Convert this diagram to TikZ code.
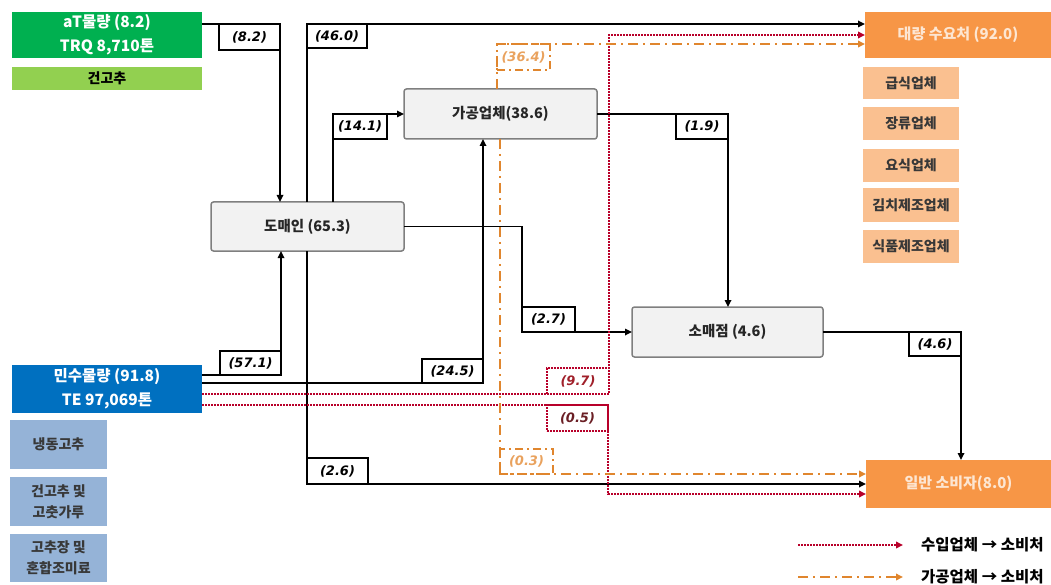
\documentclass[tikz,border=0pt]{standalone}
\usepackage{fontspec}
\usetikzlibrary{arrows.meta,calc}
\newfontfamily\kr{Noto Sans CJK KR}
\newfontfamily\labfont{DejaVu Sans}
\definecolor{tgreen}{HTML}{00B050}
\definecolor{lgreen}{HTML}{92D050}
\definecolor{tblue}{HTML}{0070C0}
\definecolor{lblue}{HTML}{95B3D7}
\definecolor{torange}{HTML}{F79646}
\definecolor{lorange}{HTML}{FAC090}
\definecolor{boxgray}{HTML}{F2F2F2}
\definecolor{edgegray}{HTML}{7F7F7F}
\definecolor{dotred}{HTML}{B8002A}
\definecolor{dashor}{HTML}{E0862E}
\definecolor{laborange}{HTML}{E9A25E}
\definecolor{labred}{HTML}{A0202A}
\definecolor{labbrown}{HTML}{6A1E24}
\definecolor{subtext}{HTML}{383838}
\definecolor{demtext}{HTML}{FDE6D2}
\begin{document}
\begin{tikzpicture}[x=1pt,y=-1pt,
  base/.style={rectangle,inner sep=0pt,outer sep=0pt,anchor=north west,align=center,
    font=\kr\bfseries\fontsize{14.5}{18}\selectfont},
  srcbox/.style={base,fill=#1,text=white,font=\kr\bfseries\fontsize{15.5}{24}\selectfont},
  subbox/.style={base,fill=#1,text=subtext,font=\kr\bfseries\fontsize{14}{21}\selectfont},
  graybox/.style={base,draw=edgegray,fill=boxgray,line width=1.5pt,rounded corners=2.5pt,text=black!85},
  dembox/.style={base,fill=torange,text=demtext,font=\kr\bfseries\fontsize{15}{18}\selectfont},
  lab/.style={rectangle,draw,line width=1.6pt,inner sep=0pt,outer sep=0pt,anchor=north west,
    font=\labfont\bfseries\itshape\fontsize{13}{15}\selectfont},
  labred/.style={lab,draw=dotred,dash pattern=on 1.6pt off 1.4pt,text=labred},
  labor/.style={lab,draw=dashor,dash pattern=on 8pt off 4pt on 2pt off 4pt,text=laborange},
  flow/.style={line width=1.6pt,-{Triangle[length=7pt,width=6.5pt]}},
  redflow/.style={line width=2pt,dotred,dash pattern=on 1.6pt off 1.4pt,-{Triangle[length=7pt,width=6.5pt]}},
  orflow/.style={line width=1.8pt,dashor,dash pattern=on 10pt off 5pt on 2pt off 5pt,-{Triangle[length=7pt,width=6.5pt]}}
]
\useasboundingbox (0,0) rectangle (1051,585);

% sources
\node[srcbox=tgreen,minimum width=190pt,minimum height=46pt] (aT) at (12,12) {aT물량 (8.2)\\TRQ 8,710톤};
\node[subbox=lgreen,text=black,minimum width=190pt,minimum height=23pt] (gc) at (12,67) {건고추};
\node[srcbox=tblue,minimum width=190pt,minimum height=48pt] (ms) at (12,365) {민수물량 (91.8)\\TE 97,069톤};
\node[subbox=lblue,minimum width=97pt,minimum height=49pt] (sb1) at (10,420) {냉동고추};
\node[subbox=lblue,minimum width=97pt,minimum height=49pt] (sb2) at (10,477) {건고추 및\\고춧가루};
\node[subbox=lblue,minimum width=97pt,minimum height=48pt] (sb3) at (10,534) {고추장 및\\혼합조미료};

% intermediaries
\node[graybox,minimum width=193pt,minimum height=49pt] (dm) at (211,202) {도매인 (65.3)};
\node[graybox,minimum width=193pt,minimum height=50pt] (pr) at (404,89) {가공업체(38.6)};
\node[graybox,minimum width=191pt,minimum height=50pt] (rt) at (632,307) {소매점 (4.6)};

% demand
\node[dembox,minimum width=186pt,minimum height=46pt] (bulk) at (865,12) {대량 수요처 (92.0)};
\node[dembox,minimum width=185pt,minimum height=48pt] (cons) at (866,460) {일반 소비자(8.0)};
\node[subbox=lorange,minimum width=96pt,minimum height=32pt] (o1) at (863,67) {급식업체};
\node[subbox=lorange,minimum width=96pt,minimum height=33pt] (o2) at (863,107) {장류업체};
\node[subbox=lorange,minimum width=96pt,minimum height=33pt] (o3) at (863,149) {요식업체};
\node[subbox=lorange,minimum width=96pt,minimum height=34pt] (o4) at (863,188) {김치제조업체};
\node[subbox=lorange,minimum width=96pt,minimum height=33pt] (o5) at (863,230) {식품제조업체};

% labels
\node[lab,minimum width=61pt,minimum height=26pt] (l82) at (219,24) {(8.2)};
\node[lab,minimum width=60pt,minimum height=24pt] (l460) at (307,24) {(46.0)};
\node[lab,minimum width=54pt,minimum height=25pt] (l141) at (333,114) {(14.1)};
\node[lab,minimum width=61pt,minimum height=24pt] (l571) at (220,351) {(57.1)};
\node[lab,minimum width=61pt,minimum height=24pt] (l245) at (422,359) {(24.5)};
\node[lab,minimum width=61pt,minimum height=26pt] (l26) at (307,458) {(2.6)};
\node[lab,minimum width=53pt,minimum height=25pt] (l27) at (522,307) {(2.7)};
\node[lab,minimum width=52pt,minimum height=25pt] (l19) at (676,114) {(1.9)};
\node[lab,minimum width=52pt,minimum height=24pt] (l46) at (909,332) {(4.6)};
\node[labred,minimum width=62pt,minimum height=26pt] (l97) at (547,368) {(9.7)};
\node[labred,text=labbrown,minimum width=61pt,minimum height=26pt] (l05) at (547,405) {(0.5)};
\node[labor,minimum width=53pt,minimum height=26pt] (l364) at (497,44) {(36.4)};
\node[labor,minimum width=53pt,minimum height=25pt] (l03) at (500,449) {(0.3)};

% black flows
\draw[flow] (aT.east |- l82.north) -- (l82.north east) -- (l82.north east |- dm.north);
\draw[flow] (dm.north -| l460.west) -- (l460.north west) -- (bulk.west |- l460.north);
\draw[flow] (dm.north -| l141.west) -- (l141.north west) -- (pr.west |- l141.north);
\draw[flow] (ms.east |- l571.south) -- (l571.south east) -- (l571.east |- dm.south);
\draw[flow] (ms.east |- l245.south) -- (l245.south east) -- (l245.east |- pr.south);
\draw[flow] (dm.south -| l26.west) -- (l26.south west) -- (cons.west |- l26.south);
\draw[flow] (dm.east) -- (dm.east -| l27.west) -- (l27.south west) -- (rt.west);
\draw[flow] (pr.east) -- (pr.east -| l19.east) -- (l19.east |- rt.north);
\draw[flow] (rt.east) -- (rt.east -| l46.east) -- (l46.east |- cons.north);

% importer -> consumer (red dotted)
\draw[redflow] (ms.east |- l97.south) -- (l97.south east) |- (bulk.west);
\draw[redflow] (ms.east |- l05.north) -- (l05.north east) |- ($(cons.west)+(0,10)$);

% processor -> consumer (orange dash-dot)
\draw[orflow] (pr.north -| l364.west) -- (l364.north west) -- (bulk.west |- l364.north);
\draw[orflow] (pr.south -| l03.west) -- (l03.south west) -- (cons.west |- l03.south);

% legend
\coordinate (lg1s) at (798,545);
\coordinate (lg1e) at (903,545);
\coordinate (lg2s) at (798,577);
\coordinate (lg2e) at (903,577);
\draw[redflow] (lg1s) -- (lg1e);
\draw[orflow] (lg2s) -- (lg2e);
\node[anchor=west,inner sep=0pt,font=\kr\bfseries\fontsize{15.5}{18}\selectfont] (lt1) at (921,545) {수입업체 → 소비처};
\node[anchor=west,inner sep=0pt,font=\kr\bfseries\fontsize{15.5}{18}\selectfont] (lt2) at (921,577) {가공업체 → 소비처};
\end{tikzpicture}
\end{document}
